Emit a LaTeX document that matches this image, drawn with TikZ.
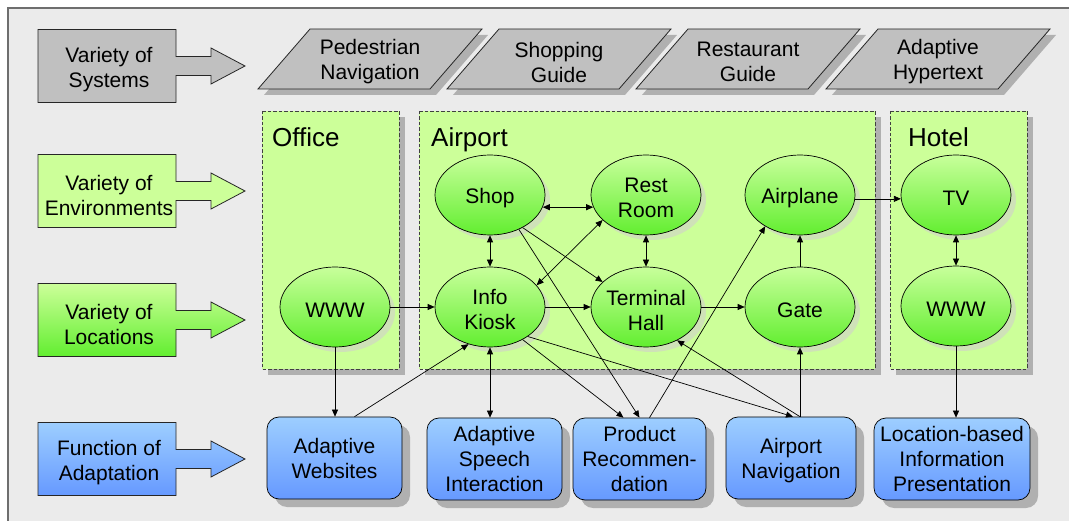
\documentclass[tikz,border=0pt]{standalone}
\usepackage{fontspec}
\setmainfont{Liberation Sans}
\usetikzlibrary{arrows.meta,shapes.geometric,calc,shadows}
\definecolor{bg}{HTML}{EBEBEB}
\definecolor{framec}{HTML}{6E6E6E}
\definecolor{sysgray}{HTML}{C0C0C0}
\definecolor{envgreen}{HTML}{CCFF99}
\definecolor{elltop}{HTML}{C8FF9B}
\definecolor{ellbot}{HTML}{62EE30}
\definecolor{bluetop}{HTML}{9DCEFF}
\definecolor{bluebot}{HTML}{6699FF}
\definecolor{boxshadow}{HTML}{B0B0B0}
\definecolor{ellshadow}{HTML}{CFE2B8}
\definecolor{dashc}{HTML}{404040}
\newcommand\lblarrow[4]{%
  \path[#2, draw=black!85, line width=0.8pt] (38,#1-36.5) -- (176,#1-36.5) -- (176,#1-9.5) -- (211,#1-9.5) -- (211,#1-18) -- (245,#1) -- (211,#1+18) -- (211,#1+9.5) -- (176,#1+9.5) -- (176,#1+36.5) -- (38,#1+36.5) -- cycle;
  \node[txt] (#3) at (109,#1+4) {#4};}
\newcommand\paral[3]{%
  \fill[boxshadow] (#1-86+26+6,35) -- (#1+86+26+6,35) -- (#1+86-26+6,95) -- (#1-86-26+6,95) -- cycle;
  \filldraw[fill=sysgray, draw=black!85, line width=0.8pt] (#1-86+26,29) -- (#1+86+26,29) -- (#1+86-26,89) -- (#1-86-26,89) -- cycle;
  \node[txt] (#2) at (#1,62) {#3};}
\newcommand\envbox[5]{%
  \fill[boxshadow] (#1+6,117) rectangle (#2+6,375);
  \filldraw[fill=envgreen, draw=dashc, line width=0.8pt, dash pattern=on 3.5pt off 2pt] (#1,111) rectangle (#2,369);
  \node[title, anchor=base west] (#3) at (#5,147) {#4};}
\begin{document}
\begin{tikzpicture}[x=1pt,y=-1pt,
  txt/.style={font=\fontsize{21}{25}\selectfont, align=center, text=black, inner sep=0pt},
  title/.style={font=\fontsize{26}{30}\selectfont, text=black, inner sep=0pt},
  ell/.style={ellipse, draw=black, line width=0.7pt, minimum width=110pt, minimum height=80pt, inner sep=0pt, top color=elltop, bottom color=ellbot,
    drop shadow={shadow xshift=5pt, shadow yshift=-5pt, fill=ellshadow, opacity=1},
    label={[txt, yshift=-3pt]center:{#1}}},
  fbox/.style={rounded corners=12pt, draw=black, line width=0.7pt, minimum height=82pt, inner sep=0pt, top color=bluetop, bottom color=bluebot, txt,
    drop shadow={shadow xshift=8pt, shadow yshift=-8pt, fill=boxshadow, opacity=1}},
  conn/.style={draw=black, line width=0.7pt, -{Triangle[length=7pt,width=6pt]}},
  bconn/.style={draw=black, line width=0.7pt, {Triangle[length=7pt,width=6pt]}-{Triangle[length=7pt,width=6pt]}},
]
\useasboundingbox (0,0) rectangle (1069,521);
% frame
\fill[bg] (8,8) rectangle (1090,540);
\draw[framec, line width=1.5pt] (8,540) -- (8,8) -- (1090,8);

% row labels
\lblarrow{66}{fill=sysgray}{lSys}{Variety of\\Systems}
\lblarrow{191}{fill=envgreen}{lEnv}{Variety of\\Environments}
\lblarrow{320}{top color=envgreen, bottom color=ellbot}{lLoc}{Variety of\\Locations}
\lblarrow{459}{top color=bluetop, bottom color=bluebot}{lFun}{Function of\\Adaptation}

% systems
\paral{370}{p1}{Pedestrian\\Navigation}
\paral{559}{p2}{Shopping\\Guide}
\paral{748}{p3}{Restaurant\\Guide}
\paral{938}{p4}{Adaptive\\Hypertext}

% environments
\envbox{262}{399}{tOffice}{Office}{272}
\envbox{419}{875}{tAirport}{Airport}{431}
\envbox{890}{1027}{tHotel}{Hotel}{908}

% locations
\node[ell={WWW}] (WWWo) at (335,307) {};
\node[ell={Shop}] (Shop) at (490,195) {};
\node[ell={Rest\\Room}] (Rest) at (646,195) {};
\node[ell={Airplane}] (Airplane) at (800,195) {};
\node[ell={TV}] (TV) at (956,195) {};
\node[ell={Info\\Kiosk}] (IK) at (490,307) {};
\node[ell={Terminal\\Hall}] (TH) at (646,307) {};
\node[ell={Gate}] (Gate) at (800,307) {};
\node[ell={WWW}] (WWWh) at (956,306) {};

% functions
\node[fbox, minimum width=135pt] (AW) at (334.5,458) {Adaptive\\Websites};
\node[fbox, minimum width=135pt] (AS) at (494.5,459) {Adaptive\\Speech\\Interaction};
\node[fbox, minimum width=133pt] (PR) at (639.5,459) {Product\\Recommen-\\dation};
\node[fbox, minimum width=130pt] (AN) at (791,458) {Airport\\\raisebox{0pt}[\height][0pt]{Navigation}};
\node[fbox, minimum width=156pt] (LB) at (952,459) {Location-based\\Information\\Presentation};

% connectors
\draw[conn] (WWWo.east) -- (IK.west);
\draw[conn] (WWWo.south) -- (WWWo.south |- AW.north);
\draw[conn] ($(AW.north)+(20,0)$) -- (IK.240);
\draw[bconn] (Shop.south) -- (IK.north);
\draw[bconn] (Shop.-13) -- (Rest.193);
\draw[bconn] (Rest.south) -- (TH.north);
\draw[bconn] (IK.25) -- (Rest.210);
\draw[conn] (Shop.-45) -- (TH.150);
\draw[conn] (Shop.-50) -- (PR.north);
\draw[conn] (IK.east) -- (TH.west);
\draw[conn] (TH.east) -- (Gate.west);
\draw[conn] (Gate.north) -- (Airplane.south);
\draw[conn] ($(PR.north)+(10,0)$) -- (Airplane.222);
\draw[conn] (IK.-45) -- ($(PR.north)+(-16,0)$);
\draw[conn] (IK.-38) -- ($(AN.north)+(2,0)$);
\coordinate (ANtop) at ($(AN.north)+(9,0)$);
\draw[conn] (ANtop) -- (TH.-47);
\draw[conn] (ANtop) -- (ANtop |- Gate.south);
\draw[bconn] (IK.south) -- (IK.south |- AS.north);
\draw[conn] (Airplane.-4) -- (TV.184);
\draw[bconn] (TV.south) -- (WWWh.north);
\draw[conn] (WWWh.south) -- (WWWh.south |- LB.north);
\end{tikzpicture}
\end{document}
